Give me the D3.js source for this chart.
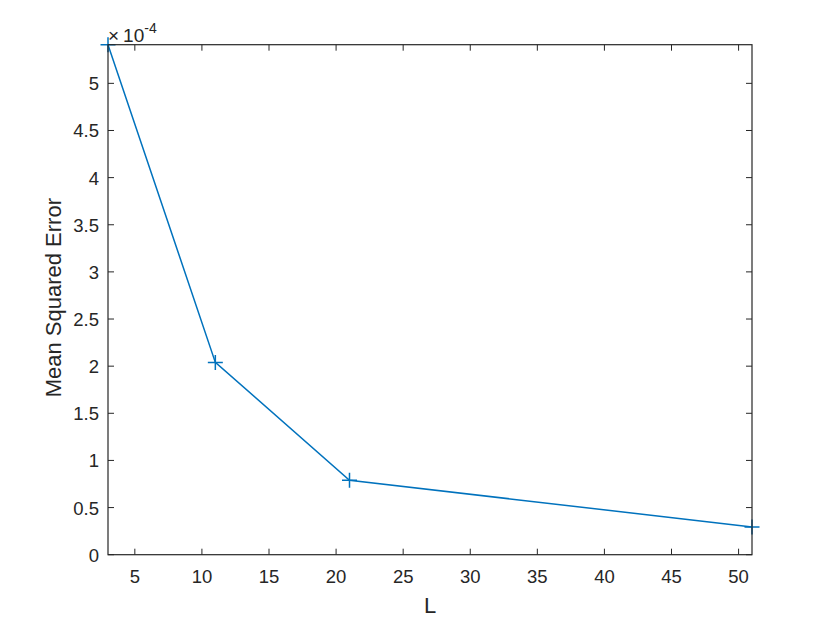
<!DOCTYPE html>
<html><head><meta charset="utf-8">
<script src="https://cdn.jsdelivr.net/npm/d3@7"></script>
<style>body{margin:0;background:#fff}svg{display:block}text{font-family:"Liberation Sans",Arial,sans-serif;fill:#262626}</style>
</head><body><div id="chart"></div>
<script>
const Lvalues = [3, 11, 21, 51];
const mseValues = [5.41e-4, 2.04e-4, 0.79e-4, 0.294e-4];
const xTicks = [5, 10, 15, 20, 25, 30, 35, 40, 45, 50];
const yTicks = [0, 0.5, 1, 1.5, 2, 2.5, 3, 3.5, 4, 4.5, 5];
const yScaleExp = 1e-4;

const W = 830, H = 623;
const m = {left:108, right:752, top:44.7, bottom:554.7};
const svg = d3.select("#chart").append("svg").attr("width", W).attr("height", H);
const x = d3.scaleLinear().domain([3, 51]).range([m.left, m.right]);
const y = d3.scaleLinear().domain([0, 5.41]).range([m.bottom, m.top]);
const col = "#262626", tl = 6;

const g = svg.append("g");
xTicks.forEach(t => {
  g.append("line").attr("x1", x(t)).attr("x2", x(t)).attr("y1", m.bottom).attr("y2", m.bottom - tl).attr("stroke", col);
  g.append("line").attr("x1", x(t)).attr("x2", x(t)).attr("y1", m.top).attr("y2", m.top + tl).attr("stroke", col);
  g.append("text").attr("x", x(t)).attr("y", m.bottom + 28.5).attr("text-anchor", "middle").attr("font-size", 18.5).text(t);
});
yTicks.forEach(t => {
  g.append("line").attr("y1", y(t)).attr("y2", y(t)).attr("x1", m.left).attr("x2", m.left + tl).attr("stroke", col);
  g.append("line").attr("y1", y(t)).attr("y2", y(t)).attr("x1", m.right).attr("x2", m.right - tl).attr("stroke", col);
  g.append("text").attr("x", m.left - 9).attr("y", y(t) + 7).attr("text-anchor", "end").attr("font-size", 18.5).text(t);
});

const line = d3.line().x((d, i) => x(Lvalues[i])).y(d => y(d / yScaleExp));
svg.append("path").datum(mseValues).attr("d", line).attr("fill", "none").attr("stroke", "#0072BD").attr("stroke-width", 1.5);
const ms = 7.5;
mseValues.forEach((v, i) => {
  const cx = x(Lvalues[i]), cy = y(v / yScaleExp);
  svg.append("path").attr("d", `M${cx - ms},${cy}H${cx + ms}M${cx},${cy - ms}V${cy + ms}`).attr("stroke", "#0072BD").attr("stroke-width", 1.5);
});

svg.append("rect").attr("x", m.left).attr("y", m.top).attr("width", m.right - m.left).attr("height", m.bottom - m.top)
  .attr("fill", "none").attr("stroke", col).attr("stroke-width", 1.2);

const ex = svg.append("text").attr("x", m.left).attr("y", 41.7).attr("font-size", 19);
ex.append("tspan").text("\u00d7");
ex.append("tspan").attr("dx", 4).text("10");
ex.append("tspan").attr("dy", -9).attr("font-size", 14).text("-4");

svg.append("text").attr("x", (m.left + m.right) / 2).attr("y", 613).attr("text-anchor", "middle").attr("font-size", 22).text("L");
svg.append("text").attr("transform", `translate(60.5,${(m.top + m.bottom) / 2 - 2}) rotate(-90)`).attr("text-anchor", "middle").attr("font-size", 22).text("Mean Squared Error");
</script></body></html>
